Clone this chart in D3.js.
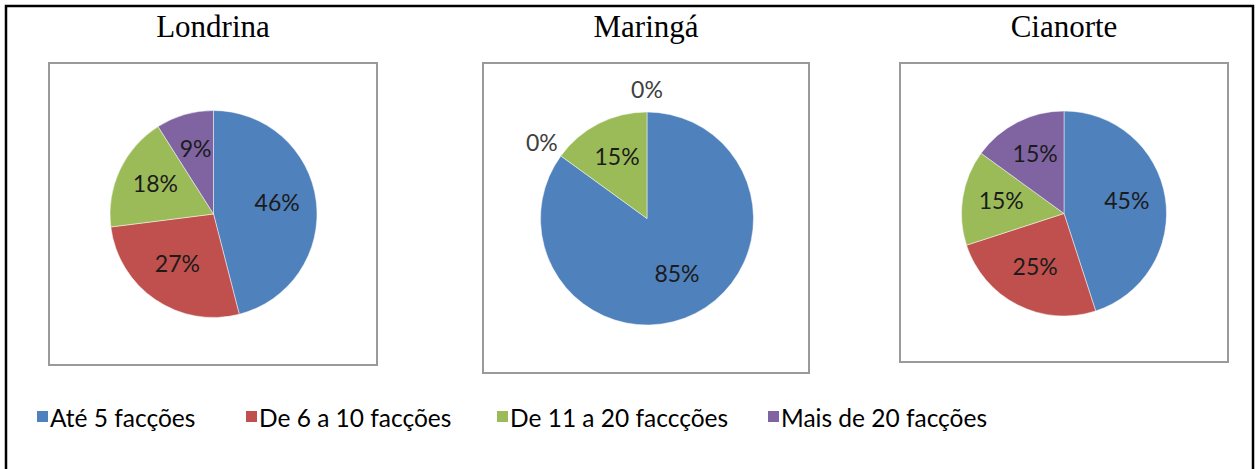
<!DOCTYPE html>
<html>
<head>
<meta charset="utf-8">
<script src="https://cdn.jsdelivr.net/npm/d3@7"></script>
<style>
  html, body { margin: 0; padding: 0; background: #fff; }
  svg { display: block; }
</style>
</head>
<body>
<svg id="chart" width="1257" height="469"></svg>
<script>
// ---- data ----
const categories = ["Até 5 facções", "De 6 a 10 facções", "De 11 a 20 faccções", "Mais de 20 facções"];
const cities = ["Londrina", "Maringá", "Cianorte"];
const londrina = [46, 27, 18, 9];
const maringa = [85, 0, 15, 0];
const cianorte = [45, 25, 15, 15];
const colors = ["#4F81BD", "#C0504D", "#9BBB59", "#8064A2"];

const seriesByCity = [londrina, maringa, cianorte];

// ---- layout ----
const svg = d3.select("#chart");

// outer border
svg.append("rect")
  .attr("x", 6).attr("y", 6)
  .attr("width", 1247).attr("height", 520)
  .attr("fill", "none").attr("stroke", "#000").attr("stroke-width", 2.5);

const panels = [
  { box: [49, 63, 328, 302], cx: 213.5, cy: 214, r: 103.5, tx: 213 },
  { box: [483, 63, 326, 310], cx: 647, cy: 218.5, r: 106.5, tx: 646 },
  { box: [900, 63, 328, 299], cx: 1064, cy: 213.5, r: 102.5, tx: 1064 }
];

const pie = d3.pie().sort(null).value(d => d);

cities.forEach((city, ci) => {
  const p = panels[ci];
  const values = seriesByCity[ci];

  // title
  svg.append("text")
    .attr("x", p.tx).attr("y", 37)
    .attr("text-anchor", "middle")
    .attr("font-family", "'Liberation Serif', 'Times New Roman', serif")
    .attr("font-size", 31)
    .attr("fill", "#000")
    .text(city);

  // chart box
  svg.append("rect")
    .attr("x", p.box[0]).attr("y", p.box[1])
    .attr("width", p.box[2]).attr("height", p.box[3])
    .attr("fill", "#fff")
    .attr("stroke", "#9a9a9a").attr("stroke-width", 2);

  const g = svg.append("g").attr("transform", `translate(${p.cx},${p.cy})`);
  const arcs = pie(values);
  const arc = d3.arc().innerRadius(0).outerRadius(p.r);
  const labelArc = d3.arc().innerRadius(p.r * 0.62).outerRadius(p.r * 0.62);
  const outerArc = d3.arc().innerRadius(p.r * 1.22).outerRadius(p.r * 1.22);

  g.selectAll("path")
    .data(arcs.filter(d => d.value > 0))
    .join("path")
    .attr("d", arc)
    .attr("fill", d => colors[d.index])
    .attr("stroke", "#ffffff")
    .attr("stroke-opacity", 0.6)
    .attr("stroke-width", 0.8);

  g.selectAll("text.lbl")
    .data(arcs)
    .join("text")
    .attr("class", "lbl")
    .attr("transform", d => {
      const [x, y] = (d.value > 0 ? labelArc : outerArc).centroid(d);
      return `translate(${x},${y - (d.value > 0 ? 4 : 0)})`;
    })
    .attr("text-anchor", "middle")
    .attr("dominant-baseline", "central")
    .attr("font-family", "Lato, 'Open Sans', sans-serif")
    .attr("font-size", 23)
    .attr("fill", d => d.value > 0 ? "#1b1b1b" : "#404040")
    .text(d => d.value + "%");
});

// ---- legend ----
const legendX = [37, 246, 497, 768];
const legend = svg.append("g");
categories.forEach((c, i) => {
  legend.append("rect")
    .attr("x", legendX[i]).attr("y", 411)
    .attr("width", 11).attr("height", 11)
    .attr("fill", colors[i]);
  legend.append("text")
    .attr("x", legendX[i] + 13).attr("y", 417)
    .attr("dominant-baseline", "central")
    .attr("font-family", "Lato, 'Open Sans', sans-serif")
    .attr("font-size", 24.5)
    .attr("fill", "#000")
    .text(c);
});
</script>
</body>
</html>
